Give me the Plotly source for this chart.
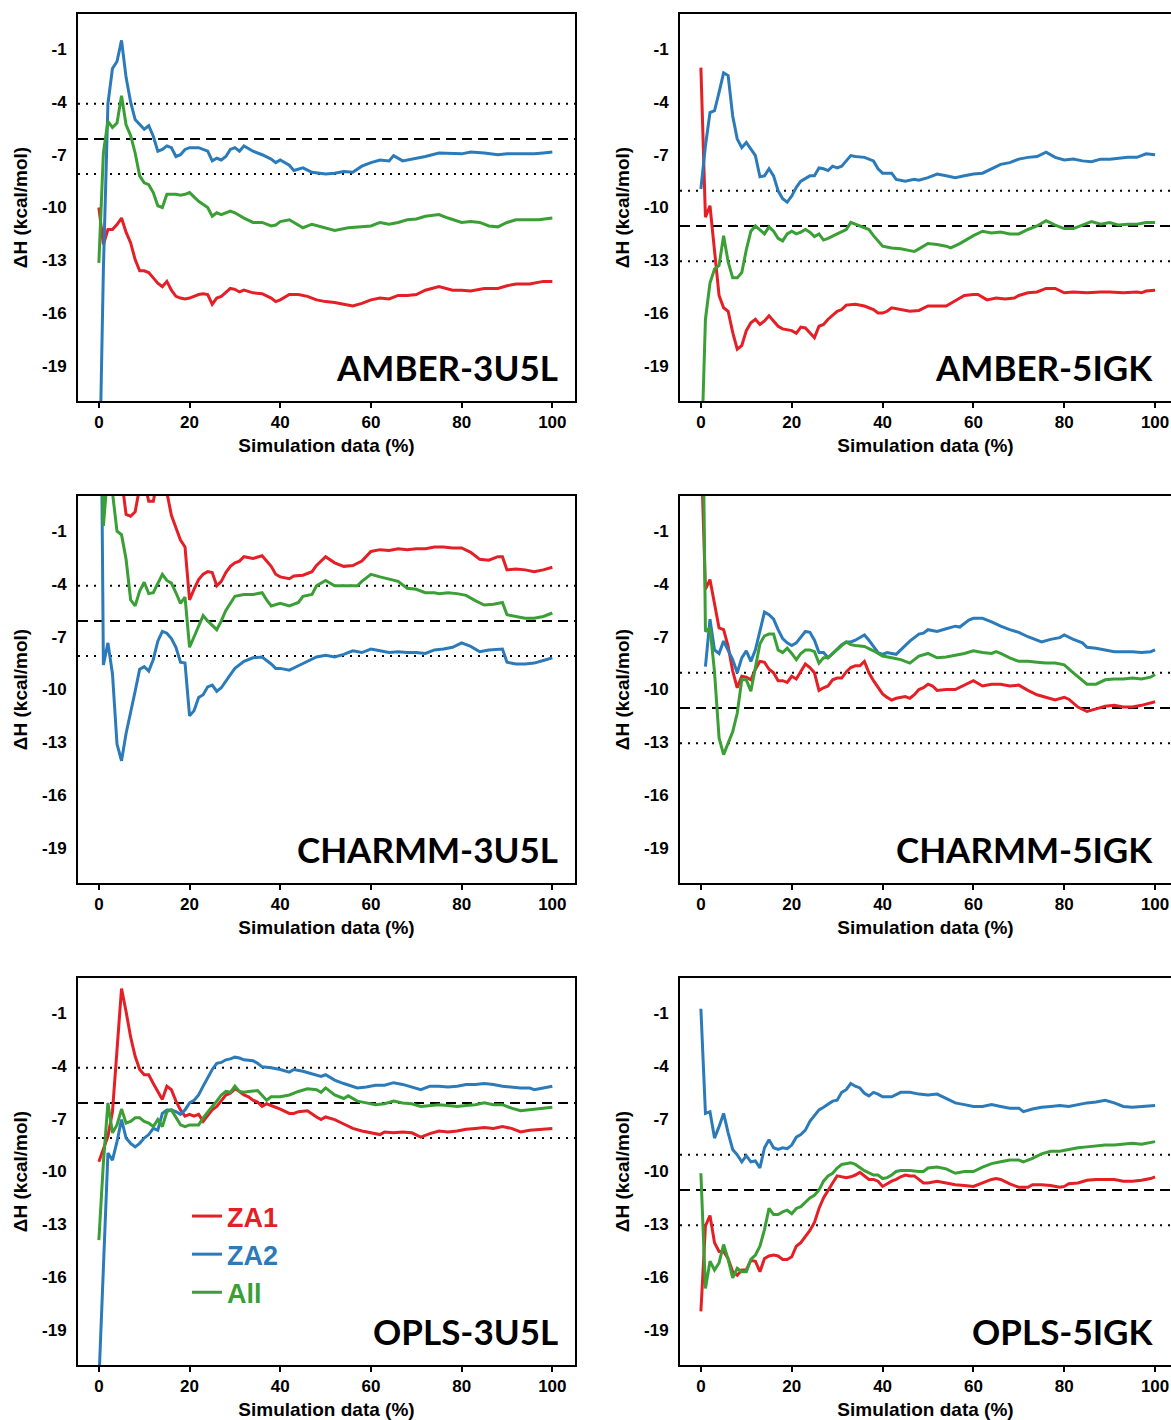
import plotly.graph_objects as go

# ---------------- colours / names ----------------
RED, BLUE, GREEN = "#e41f26", "#2b7bba", "#3a9f35"
series_names = ["ZA1", "ZA2", "All"]
panel_labels = ["AMBER-3U5L", "AMBER-5IGK", "CHARMM-3U5L", "CHARMM-5IGK", "OPLS-3U5L", "OPLS-5IGK"]

# experimental reference (dashed) and +/- band (dotted)
ref_3u5l = -6.1
ref_5igk = -11.05
ref_band = 2.0

x_ticks = [0, 20, 40, 60, 80, 100]
y_ticks = [-1, -4, -7, -10, -13, -16, -19]
y_tick_labels = ["-1", "-4", "-7", "-10", "-13", "-16", "-19"]

# ---------------- AMBER-3U5L ----------------
amber_3u5l_za1_x = [0,1,2,3,4,5,6,7,8,9,10,11,12,13,14,15,16,17,18,19,20,21,22,23,24,25,26,27,28,29,30,31,32,
                    34,36,38,39,40,42,44,46,48,50,52,54,56,58,60,62,64,66,68,70,72,75,78,80,82,85,88,90,92,95,98,100]
amber_3u5l_za1 = [-10.0,-12.1,-11.25,-11.25,-10.97,-10.6,-11.4,-12.0,-12.96,-13.6,
                  -13.6,-13.7,-14.0,-14.3,-14.5,-14.2,-14.7,-15.05,-15.15,-15.2,
                  -15.15,-15.05,-14.95,-14.9,-14.95,-15.5,-15.15,-15.05,-14.85,-14.6,
                  -14.65,-14.8,-14.7,
                  -14.85,-14.9,-15.15,-15.35,-15.25,
                  -14.95,-14.95,-15.05,-15.25,-15.35,-15.4,-15.5,-15.6,-15.45,-15.25,-15.15,-15.2,-15.0,-15.0,-14.95,-14.7,
                  -14.5,-14.7,-14.7,-14.75,-14.6,-14.6,-14.45,-14.35,-14.35,-14.2,-14.2]
amber_3u5l_za2_x = [0,1,2,3,4,5,6,7,8,9,10,11,12,13,14,15,16,17,18,19,20,
                    22,24,25,26,27,28,29,30,31,32,34,36,38,39,40,42,43,45,47,
                    50,52,54,56,58,60,62,64,65,67,69,72,75,78,80,82,85,88,90,93,96,98,100]
amber_3u5l_za2 = [-27,-13.5,-4.1,-2.1,-1.7,-0.5,-2.6,-4.0,-5.0,-5.3,-5.55,-5.35,-5.95,-6.8,-6.7,-6.5,-6.6,-7.1,-7.0,-6.7,-6.6,
                  -6.6,-6.8,-7.35,-7.2,-7.3,-7.1,-6.7,-6.6,-6.8,-6.5,
                  -6.8,-7.0,-7.25,-7.45,-7.3,
                  -7.6,-7.9,-7.75,-8.0,
                  -8.1,-8.05,-7.95,-8.0,-7.65,-7.45,-7.3,-7.35,-7.05,-7.35,-7.25,
                  -7.1,-6.9,-6.95,-6.95,-6.85,-6.9,-7.0,-6.95,-6.95,-6.95,-6.9,-6.85]
amber_3u5l_all_x = [0,1,2,3,4,5,6,7,8,9,10,11,12,13,14,15,16,17,18,19,20,
                    22,24,25,26,27,29,30,32,34,36,38,39,40,42,45,47,50,52,55,58,60,
                    62,64,66,68,70,72,75,77,80,82,84,86,88,90,92,95,97,100]
amber_3u5l_all = [-13.15,-6.9,-5.1,-5.45,-5.2,-3.65,-5.3,-5.9,-6.9,-8.2,-8.6,-8.7,-9.15,-9.9,-10.0,-9.25,-9.25,-9.25,-9.3,-9.25,-9.15,
                  -9.65,-10.0,-10.5,-10.3,-10.4,-10.2,-10.3,
                  -10.6,-10.85,-10.85,-11.05,-11.0,-10.8,
                  -10.7,-11.15,-10.95,-11.15,-11.3,-11.15,-11.1,-11.05,
                  -10.85,-10.95,-10.85,-10.7,-10.65,-10.5,-10.4,-10.6,
                  -10.85,-10.8,-10.85,-11.05,-11.1,-10.85,-10.7,-10.7,-10.7,-10.6]

# ---------------- AMBER-5IGK ----------------
amber_5igk_za1_x = [0,1,2,3,4,5,6,7,8,9,10,11,12,13,14,15,16,17,18,
                    20,21,22,23,24,25,26,27,28,30,31,32,34,36,38,39,40,41,42,
                    44,46,48,50,52,54,56,58,60,61,63,65,67,69,70,72,74,76,78,80,
                    82,85,88,90,93,96,97,98,100]
amber_5igk_za1 = [-2.05,-10.55,-9.9,-12.55,-15.0,-15.7,-15.9,-17.1,-18.05,-17.85,-17.0,-16.55,-16.35,-16.65,-16.45,-16.15,-16.45,-16.75,-16.9,
                  -17.0,-17.15,-16.8,-16.85,-17.1,-17.4,-16.75,-16.65,-16.35,
                  -15.9,-15.8,-15.55,-15.5,-15.6,-15.8,-16.0,-16.0,-15.9,-15.7,
                  -15.8,-15.9,-15.85,-15.6,-15.6,-15.6,-15.3,-15.0,-14.95,-14.95,
                  -15.25,-15.15,-15.2,-15.15,-15.0,-14.85,-14.8,-14.6,-14.6,-14.85,
                  -14.8,-14.85,-14.8,-14.8,-14.85,-14.8,-14.85,-14.75,-14.7]
amber_5igk_za2_x = [0,1,2,3,4,5,6,7,8,9,10,11,12,13,14,15,16,17,18,19,20,21,22,
                    24,25,26,27,28,29,30,31,32,33,34,
                    36,38,39,40,42,43,45,47,48,50,
                    52,54,56,58,60,62,64,66,68,70,72,74,76,78,80,82,84,86,88,90,92,94,96,98,100]
amber_5igk_za2 = [-8.95,-6.5,-4.6,-4.5,-3.45,-2.35,-2.5,-4.8,-6.1,-6.6,-6.3,-6.7,-7.05,-8.25,-8.2,-7.8,-8.2,-9.05,-9.5,-9.7,-9.35,-8.85,-8.5,
                  -8.2,-8.2,-7.75,-7.8,-7.9,-7.65,-7.75,-7.65,-7.35,-7.05,-7.1,
                  -7.15,-7.35,-7.8,-8.05,-8.05,-8.4,-8.5,-8.4,-8.45,-8.3,
                  -8.1,-8.2,-8.3,-8.2,-8.1,-8.05,-7.8,-7.55,-7.45,-7.25,-7.15,-7.1,-6.85,-7.15,-7.3,-7.25,-7.35,-7.4,-7.25,-7.25,-7.2,-7.15,-7.15,-6.95,-7.0]
amber_5igk_all_x = [0,1,2,3,4,5,6,7,8,9,10,11,12,13,14,15,16,17,18,19,20,21,22,23,24,25,26,27,28,
                    30,32,33,35,37,38,40,
                    42,44,46,47,48,50,52,54,55,57,
                    60,62,64,66,68,70,72,74,76,78,80,82,84,86,88,90,92,94,96,98,100]
amber_5igk_all = [-25,-16.35,-14.3,-13.5,-13.3,-11.6,-13.1,-14.0,-14.0,-13.7,
                  -12.4,-11.35,-11.05,-11.25,-11.5,-11.1,-11.35,-11.75,-11.9,-11.5,
                  -11.35,-11.5,-11.4,-11.25,-11.4,-11.65,-11.5,-11.85,-11.75,
                  -11.5,-11.25,-10.85,-11.05,-11.25,-11.6,-12.2,
                  -12.3,-12.35,-12.45,-12.5,-12.35,-12.05,-12.1,-12.2,-12.3,-12.05,
                  -11.6,-11.35,-11.45,-11.4,-11.5,-11.5,-11.25,-11.05,-10.75,-11.0,-11.2,-11.2,-11.0,-10.8,-10.95,-10.85,-11.0,-10.95,-10.95,-10.85,-10.85]

# ---------------- CHARMM-3U5L ----------------
charmm_3u5l_za1_x = [0,5,6,7,8,9,10,11,12,13,14,15,16,17,18,19,20,21,22,23,24,25,26,27,28,29,30,31,32,
                     34,36,38,39,40,42,43,45,47,48,
                     50,52,54,56,58,60,62,64,66,68,70,72,74,76,78,80,82,84,86,88,
                     89,90,92,94,96,98,100]
charmm_3u5l_za1 = [3.0,
                   2.0,-0.05,-0.15,0.1,1.5,1.8,0.7,0.7,2.0,2.5,
                   1.2,-0.1,-0.8,-1.5,-1.9,-4.9,-4.3,-3.75,-3.45,-3.3,
                   -3.35,-4.1,-3.85,-3.35,-3.0,-2.8,-2.7,-2.45,
                   -2.55,-2.4,-3.0,-3.45,-3.6,-3.7,-3.55,-3.5,-3.3,-2.95,
                   -2.45,-2.8,-3.0,-2.95,-2.7,-2.15,-2.05,-2.1,-2.0,-2.05,
                   -2.0,-2.0,-1.9,-1.9,-1.95,-1.95,-2.2,-2.6,-2.65,-2.45,
                   -2.45,-3.2,-3.15,-3.2,-3.3,-3.2,-3.05]
charmm_3u5l_za2_x = [0,1,2,3,4,5,6,7,8,9,10,11,12,13,14,15,16,17,18,19,20,21,22,23,24,25,26,27,28,29,30,
                     32,34,36,38,39,40,
                     42,44,46,48,50,52,54,56,58,60,62,64,66,68,70,72,74,76,78,80,82,84,86,88,
                     89,90,92,94,96,98,100]
charmm_3u5l_za2 = [22,-8.6,-7.35,-9.1,-13.1,-14.05,-12.5,-11.2,-10.1,-8.85,
                   -8.7,-8.95,-8.3,-7.25,-6.7,-6.8,-7.1,-7.6,-8.45,-8.5,
                   -11.5,-11.2,-10.45,-10.3,-9.85,-9.75,-10.1,-9.9,-9.5,-9.15,
                   -8.8,
                   -8.4,-8.2,-8.15,-8.55,-8.8,-8.8,
                   -8.9,-8.65,-8.4,-8.15,-8.05,-8.15,-8.0,-7.8,-7.9,-7.7,
                   -7.8,-7.9,-7.85,-7.9,-7.9,-7.95,-7.75,-7.7,-7.6,-7.35,
                   -7.55,-7.85,-7.75,-7.7,
                   -7.7,-8.45,-8.55,-8.55,-8.5,-8.35,-8.2]
charmm_3u5l_all_x = [0,1,2,3,4,5,6,7,8,9,10,11,12,13,14,15,16,17,18,19,20,21,22,23,24,
                     26,27,28,30,32,34,36,37,38,40,
                     42,44,45,47,48,50,52,55,57,58,
                     60,62,66,68,70,72,74,75,77,79,
                     81,83,85,87,89,90,92,94,96,98,100]
charmm_3u5l_all = [12,-0.7,2.5,1.2,-1.0,-1.2,-2.6,-4.9,-5.25,-4.4,
                   -3.9,-4.55,-4.5,-4.0,-3.45,-3.8,-3.95,-4.5,-5.1,-4.75,
                   -7.6,-7.0,-6.4,-5.8,-6.1,
                   -6.6,-6.1,-5.5,-4.7,-4.6,-4.6,-4.5,-4.9,-5.25,-5.1,
                   -5.25,-5.05,-4.7,-4.6,-4.1,-3.8,-4.1,-4.1,-4.1,-3.85,
                   -3.45,-3.6,-3.85,-4.25,-4.3,-4.5,-4.5,-4.55,-4.5,-4.55,
                   -4.65,-4.95,-5.2,-5.15,-5.05,-5.75,-5.85,-5.95,-5.95,-5.85,-5.65]

# ---------------- CHARMM-5IGK ----------------
charmm_5igk_za1_x = [0,1,2,3,4,5,6,7,8,9,10,11,12,13,14,15,16,17,18,19,20,21,22,23,24,25,26,27,28,29,
                     30,31,32,33,34,35,36,37,38,39,40,41,42,43,44,45,46,47,48,49,50,51,52,
                     54,56,58,60,62,64,66,68,70,72,74,76,78,80,
                     81,83,85,87,89,91,93,95,97,100]
charmm_5igk_za1 = [4.1,-4.3,-3.75,-5.1,-6.5,-6.6,-7.55,-8.95,-9.9,-9.25,
                   -9.3,-9.45,-8.85,-8.4,-8.45,-8.85,-9.05,-9.5,-9.5,-9.6,
                   -9.25,-9.4,-8.95,-8.55,-8.75,-9.05,-10.05,-9.9,-9.8,-9.45,
                   -9.35,-9.35,-9.0,-8.75,-8.65,-8.65,-8.4,-9.05,-9.5,-9.9,
                   -10.25,-10.45,-10.6,-10.5,-10.45,-10.4,-10.5,-10.3,-10.0,-9.9,
                   -9.7,-9.8,-10.05,
                   -10.0,-10.0,-9.75,-9.5,-9.8,-9.7,-9.7,-9.8,-9.75,-10.05,-10.3,-10.45,-10.6,-10.45,
                   -10.55,-11.0,-11.25,-11.1,-10.95,-10.9,-11.0,-11.0,-10.9,-10.7]
charmm_5igk_za2_x = [1,2,3,4,5,6,7,8,9,10,11,12,13,14,15,16,17,18,19,20,21,22,23,24,25,26,27,28,29,30,
                     31,32,33,34,35,36,37,38,39,40,41,42,43,44,
                     46,48,49,50,52,54,56,57,59,60,
                     62,64,66,68,70,72,74,75,77,79,
                     80,82,84,85,87,89,91,93,95,97,99,100]
charmm_5igk_za2 = [-8.7,-6.0,-7.75,-7.95,-7.25,-7.75,-8.3,-9.05,-8.2,-7.8,
                   -8.4,-7.75,-6.6,-5.6,-5.75,-6.0,-6.6,-7.1,-7.35,-7.5,
                   -7.35,-7.05,-6.7,-6.75,-7.2,-7.9,-7.9,-8.2,-7.95,-7.65,
                   -7.45,-7.3,-7.3,-7.2,-7.05,-6.9,-7.2,-7.55,-7.9,-8.0,
                   -7.9,-7.95,-8.0,-7.75,
                   -7.25,-6.85,-6.8,-6.6,-6.7,-6.55,-6.4,-6.45,-6.05,-5.95,
                   -5.95,-6.15,-6.4,-6.6,-6.75,-7.0,-7.2,-7.3,-7.15,-7.05,
                   -6.9,-7.15,-7.35,-7.6,-7.65,-7.75,-7.85,-7.85,-7.85,-7.9,-7.85,-7.75]
charmm_5igk_all_x = [0,1,2,3,4,5,6,7,8,9,10,11,12,13,14,15,16,17,18,19,20,21,22,23,24,25,26,27,28,29,30,31,32,33,34,
                     36,38,40,42,44,46,47,48,50,52,54,56,58,60,62,64,
                     65,66,68,70,72,74,76,78,80,82,84,
                     85,87,89,91,93,95,97,99,100]
charmm_5igk_all = [16,-6.7,-6.5,-9.0,-12.75,-13.7,-13.05,-12.4,-11.35,-9.45,
                   -9.45,-10.1,-8.75,-7.4,-6.95,-6.85,-6.85,-7.75,-7.9,-7.65,
                   -7.95,-8.3,-7.95,-7.75,-7.75,-7.85,-8.5,-8.2,-8.2,-7.95,
                   -7.7,-7.5,-7.3,-7.45,-7.5,
                   -7.55,-7.8,-8.1,-8.2,-8.3,-8.5,-8.3,-8.1,-7.95,-8.2,-8.15,-8.05,-7.95,-7.8,-7.9,-7.95,
                   -7.85,-7.95,-8.2,-8.4,-8.4,-8.45,-8.5,-8.5,-8.6,-9.05,-9.5,
                   -9.7,-9.7,-9.45,-9.4,-9.4,-9.35,-9.4,-9.3,-9.15]

# ---------------- OPLS-3U5L ----------------
opls_3u5l_za1_x = [0,1,2,3,4,5,6,7,8,9,10,11,12,13,14,15,16,17,18,19,20,21,22,23,24,25,26,27,28,29,30,31,32,33,34,35,36,37,38,
                   40,42,43,44,46,48,49,50,
                   52,54,56,58,60,62,63,65,67,69,
                   71,73,75,77,79,81,83,85,87,89,
                   91,93,95,97,100]
opls_3u5l_za1 = [-9.45,-8.75,-8.0,-6.6,-3.3,0.4,-0.9,-2.35,-3.45,-4.2,
                 -4.5,-4.5,-5.0,-5.45,-5.9,-5.15,-5.35,-6.0,-6.5,-6.85,
                 -6.75,-6.85,-6.75,-7.15,-6.85,-6.5,-6.3,-5.95,-5.65,-5.55,
                 -5.3,-5.45,-5.65,-5.75,-5.95,-6.05,-6.3,-6.15,-6.25,
                 -6.45,-6.7,-6.7,-6.6,-6.55,-6.9,-7.05,-6.9,
                 -7.05,-7.3,-7.55,-7.7,-7.8,-7.9,-7.75,-7.8,-7.75,-7.8,
                 -8.05,-7.85,-7.7,-7.75,-7.7,-7.6,-7.55,-7.5,-7.55,-7.45,
                 -7.55,-7.75,-7.65,-7.6,-7.55]
opls_3u5l_za2_x = [0,1,2,3,4,5,6,7,8,9,10,11,12,13,14,15,16,17,18,19,20,21,22,23,24,25,26,27,28,29,30,31,32,
                   34,35,36,38,40,42,43,45,47,49,
                   50,52,54,56,57,59,61,63,65,67,
                   69,71,73,75,77,79,81,83,85,87,
                   89,91,93,95,96,98,100]
opls_3u5l_za2 = [-22,-15,-8.95,-9.35,-8.3,-7.05,-8.1,-8.4,-8.6,-8.4,
                 -8.1,-7.9,-7.55,-7.65,-6.7,-6.5,-6.5,-6.6,-6.75,-6.5,
                 -6.1,-5.95,-5.65,-5.15,-4.7,-4.2,-3.85,-3.8,-3.65,-3.6,
                 -3.5,-3.55,-3.65,
                 -3.7,-3.85,-4.05,-4.1,-4.2,-4.35,-4.2,-4.3,-4.45,-4.6,
                 -4.5,-4.8,-5.0,-5.15,-5.25,-5.2,-5.1,-5.1,-4.95,-5.05,
                 -5.2,-5.35,-5.15,-5.15,-5.2,-5.15,-5.05,-5.05,-5.0,-5.05,
                 -5.15,-5.2,-5.25,-5.25,-5.35,-5.25,-5.15]
opls_3u5l_all_x = [0,1,2,3,4,5,6,7,8,9,10,11,12,13,14,15,16,17,18,19,20,21,22,23,24,25,26,27,28,29,30,31,32,33,
                   35,37,38,40,42,44,46,48,49,50,
                   52,54,55,57,59,61,63,65,67,69,
                   71,73,75,77,79,81,83,85,87,89,
                   91,93,95,97,100]
opls_3u5l_all = [-13.9,-9.5,-6.1,-7.8,-7.35,-6.45,-7.25,-7.15,-6.95,-6.95,
                 -7.15,-7.25,-7.45,-7.05,-7.45,-6.6,-6.5,-6.9,-7.35,-7.45,
                 -7.35,-7.35,-7.35,-6.95,-6.6,-6.3,-6.0,-5.65,-5.45,-5.5,
                 -5.15,-5.45,-5.5,-5.45,
                 -5.4,-5.95,-5.75,-5.75,-5.65,-5.45,-5.3,-5.35,-5.5,-5.25,
                 -5.65,-5.85,-5.7,-6.0,-6.1,-6.2,-6.15,-6.0,-6.1,-6.15,
                 -6.3,-6.25,-6.2,-6.25,-6.3,-6.25,-6.2,-6.1,-6.2,-6.2,
                 -6.4,-6.55,-6.5,-6.45,-6.35]

# ---------------- OPLS-5IGK ----------------
opls_5igk_za1_x = [0,1,2,3,4,5,6,7,8,9,10,11,12,13,14,15,16,17,18,19,20,21,22,23,24,25,26,27,28,29,
                   30,31,32,33,34,35,36,37,38,39,40,41,42,43,44,45,46,47,48,49,50,
                   52,54,56,58,60,62,
                   64,65,66,68,70,72,73,75,77,79,
                   80,81,83,85,87,89,91,93,95,97,99,100]
opls_5igk_za1 = [-17.95,-13.1,-12.5,-14.05,-14.55,-14.55,-14.95,-15.7,-15.9,-15.6,
                 -15.6,-15.05,-15.1,-15.7,-14.95,-14.8,-14.75,-14.8,-15.0,-15.0,
                 -14.85,-14.25,-14.05,-13.7,-13.35,-12.9,-12.1,-11.5,-11.05,-10.65,
                 -10.25,-10.3,-10.35,-10.3,-10.2,-10.05,-10.25,-10.45,-10.45,-10.55,
                 -10.85,-10.7,-10.55,-10.45,-10.3,-10.2,-10.25,-10.25,-10.45,-10.65,
                 -10.65,
                 -10.55,-10.65,-10.75,-10.8,-10.85,-10.65,
                 -10.45,-10.4,-10.45,-10.7,-10.9,-10.9,-10.75,-10.75,-10.8,-10.9,
                 -10.85,-10.7,-10.65,-10.5,-10.45,-10.45,-10.45,-10.55,-10.55,-10.5,-10.4,-10.3]
opls_5igk_za2_x = [0,1,2,3,4,5,6,7,8,9,10,11,12,13,14,15,16,17,18,19,20,21,22,23,24,25,26,27,28,29,
                   30,31,32,33,34,35,36,37,38,39,40,
                   42,44,46,48,50,52,54,56,58,60,62,64,66,68,70,
                   71,73,75,77,79,81,83,85,87,89,
                   91,93,95,97,100]
opls_5igk_za2 = [-0.75,-6.7,-6.6,-8.1,-7.45,-6.7,-7.8,-8.75,-9.05,-9.45,
                 -9.1,-9.45,-9.4,-9.8,-8.65,-8.2,-8.65,-8.75,-8.65,-8.7,
                 -8.5,-8.05,-7.9,-7.65,-7.15,-6.8,-6.5,-6.35,-6.15,-6.0,
                 -5.95,-5.5,-5.35,-5.0,-5.15,-5.25,-5.55,-5.7,-5.5,-5.6,
                 -5.75,
                 -5.75,-5.5,-5.5,-5.6,-5.65,-5.6,-5.85,-6.1,-6.2,-6.3,-6.3,-6.2,-6.3,-6.4,-6.4,
                 -6.6,-6.45,-6.35,-6.3,-6.25,-6.3,-6.2,-6.1,-6.05,-5.95,
                 -6.1,-6.3,-6.35,-6.3,-6.25]
opls_5igk_all_x = [0,1,2,3,4,5,6,7,8,9,10,11,12,13,14,15,16,17,18,19,20,21,22,23,24,25,26,27,28,29,30,31,32,33,34,35,36,
                   38,39,40,41,42,43,44,46,48,49,
                   50,52,54,56,58,60,62,64,66,68,
                   70,71,73,75,77,79,81,83,85,87,
                   89,91,93,95,97,100]
opls_5igk_all = [-10.1,-16.65,-15.1,-15.6,-15.2,-14.15,-15.0,-16.05,-15.5,-15.7,
                 -15.7,-15.0,-14.75,-14.25,-13.3,-12.1,-12.45,-12.45,-12.3,-12.2,
                 -12.4,-12.1,-12.0,-11.75,-11.5,-11.35,-11.05,-10.55,-10.25,-10.1,
                 -9.8,-9.6,-9.55,-9.5,-9.6,-9.8,-9.95,
                 -10.2,-10.2,-10.4,-10.35,-10.2,-10.0,-9.95,-9.95,-10.0,-10.0,
                 -9.8,-9.75,-9.85,-10.1,-10.0,-10.0,-9.75,-9.55,-9.45,-9.35,
                 -9.35,-9.45,-9.25,-9.0,-8.85,-8.85,-8.75,-8.65,-8.6,-8.55,
                 -8.5,-8.5,-8.45,-8.4,-8.45,-8.3]

# ---------------- assemble ----------------
panels = [
    (panel_labels[0], ref_3u5l, [(amber_3u5l_za1_x, amber_3u5l_za1), (amber_3u5l_za2_x, amber_3u5l_za2), (amber_3u5l_all_x, amber_3u5l_all)]),
    (panel_labels[1], ref_5igk, [(amber_5igk_za1_x, amber_5igk_za1), (amber_5igk_za2_x, amber_5igk_za2), (amber_5igk_all_x, amber_5igk_all)]),
    (panel_labels[2], ref_3u5l, [(charmm_3u5l_za1_x, charmm_3u5l_za1), (charmm_3u5l_za2_x, charmm_3u5l_za2), (charmm_3u5l_all_x, charmm_3u5l_all)]),
    (panel_labels[3], ref_5igk, [(charmm_5igk_za1_x, charmm_5igk_za1), (charmm_5igk_za2_x, charmm_5igk_za2), (charmm_5igk_all_x, charmm_5igk_all)]),
    (panel_labels[4], ref_3u5l, [(opls_3u5l_za1_x, opls_3u5l_za1), (opls_3u5l_za2_x, opls_3u5l_za2), (opls_3u5l_all_x, opls_3u5l_all)]),
    (panel_labels[5], ref_5igk, [(opls_5igk_za1_x, opls_5igk_za1), (opls_5igk_za2_x, opls_5igk_za2), (opls_5igk_all_x, opls_5igk_all)]),
]
colors = [RED, BLUE, GREEN]

W, H = 1171, 1420
col_dom = [[78 / W, 575 / W], [680 / W, 1.0]]
col_xrange = [[-4.6, 105.0], [-4.6, 103.5]]
row_px = [(14, 401), (496, 883), (978, 1365)]
row_dom = [[(H - b) / H, (H - t) / H] for (t, b) in row_px]

TICK_FONT = dict(family="Liberation Sans, Arial, sans-serif", size=17, color="black", weight="bold")
TITLE_FONT = dict(family="Liberation Sans, Arial, sans-serif", size=19, color="black", weight="bold")

fig = go.Figure()
layout = dict(
    width=W, height=H,
    margin=dict(l=0, r=0, t=0, b=0),
    paper_bgcolor="white", plot_bgcolor="white",
    template="none",
    showlegend=True,
    legend=dict(
        x=187 / W, y=(H - 1192) / H, xanchor="left", yanchor="top",
        font=dict(family="Liberation Sans, Arial, sans-serif", size=27, weight="bold"),
        bgcolor="rgba(0,0,0,0)", borderwidth=0, tracegroupgap=0, itemwidth=30,
    ),
)
shapes, annotations = [], []

for i, (label, ref, series) in enumerate(panels):
    n = i + 1
    r, c = divmod(i, 2)
    xa = "xaxis" if n == 1 else f"xaxis{n}"
    ya = "yaxis" if n == 1 else f"yaxis{n}"
    xr = "x" if n == 1 else f"x{n}"
    yr = "y" if n == 1 else f"y{n}"
    for k, (xs, ys) in enumerate(series):
        fig.add_trace(go.Scatter(
            x=xs, y=ys, xaxis=xr, yaxis=yr, mode="lines",
            line=dict(color=colors[k], width=3),
            name=f"<b><span style='color:{colors[k]}'>{series_names[k]}</span></b>",
            legendgroup=series_names[k],
            showlegend=(n == 5), hoverinfo="skip",
        ))
    layout[xa] = dict(
        domain=col_dom[c], range=col_xrange[c], anchor=yr,
        tickvals=x_ticks, ticks="outside", ticklen=5, tickwidth=2, tickcolor="black",
        showline=True, linewidth=2, linecolor="black", mirror=True,
        showgrid=False, zeroline=False, automargin=False,
        tickfont=TICK_FONT,
        title=dict(text="Simulation data (%)", font=TITLE_FONT, standoff=7),
    )
    layout[ya] = dict(
        domain=row_dom[r], range=[-21, 1], anchor=xr,
        tickvals=y_ticks, ticktext=y_tick_labels, ticks="", ticklabelstandoff=6,
        showline=True, linewidth=2, linecolor="black", mirror=(c == 0),
        showgrid=False, zeroline=False, automargin=False,
        tickfont=TICK_FONT,
        title=dict(text="ΔH (kcal/mol)", font=TITLE_FONT, standoff=9),
    )
    for yv, dash in [(ref + ref_band, "2px,6px"), (ref, "10px,6px"), (ref - ref_band, "2px,6px")]:
        shapes.append(dict(type="line", xref=f"{xr} domain", yref=yr, x0=0, x1=1, y0=yv, y1=yv,
                           line=dict(color="black", width=2, dash=dash), layer="below"))
    annotations.append(dict(
        text=label, xref=f"{xr} domain", yref=f"{yr} domain",
        x=0.97 if c == 0 else 0.968, y=0.088, xanchor="right", yanchor="middle",
        showarrow=False,
        font=dict(family="Lato, Open Sans, sans-serif", size=35, color="black", weight="bold"),
    ))

layout["shapes"] = shapes
layout["annotations"] = annotations
fig.update_layout(**layout)
fig.write_html("out.html")
